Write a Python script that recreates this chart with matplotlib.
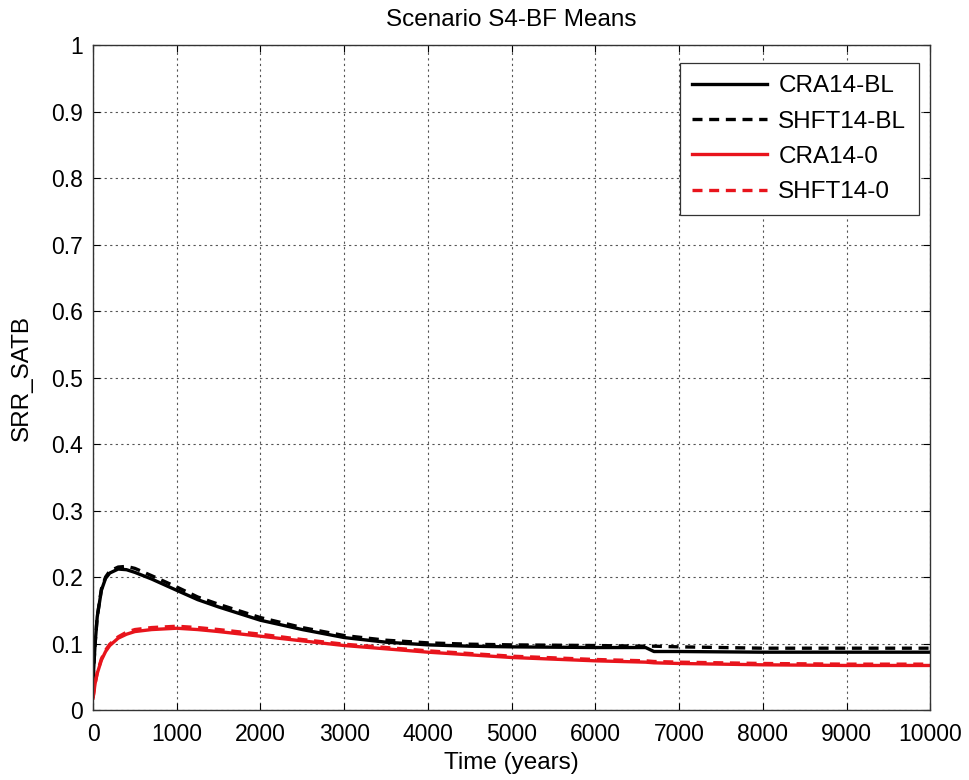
import matplotlib
matplotlib.use("Agg")
import matplotlib.pyplot as plt

plt.rcParams['font.family'] = ['Liberation Sans', 'DejaVu Sans']

# Time axis (years) and mean SRR_SATB series
time = [0, 25, 50, 100, 150, 200, 300, 400, 500, 700, 1000, 1250, 1500, 2000,
        2500, 3000, 3500, 4000, 4500, 5000, 6000, 6600, 6700, 7000, 8000, 9000, 10000]

cra14_bl = [0.045, 0.10, 0.14, 0.18, 0.198, 0.206, 0.212, 0.211, 0.207, 0.197, 0.180,
            0.166, 0.155, 0.135, 0.121, 0.109, 0.102, 0.098, 0.096, 0.095, 0.094,
            0.094, 0.088, 0.088, 0.087, 0.087, 0.087]
shft14_bl = [0.045, 0.10, 0.14, 0.182, 0.200, 0.209, 0.215, 0.216, 0.213, 0.202, 0.185,
             0.170, 0.159, 0.139, 0.124, 0.112, 0.105, 0.101, 0.099, 0.098, 0.097,
             0.096, 0.096, 0.095, 0.093, 0.093, 0.093]
cra14_0 = [0.018, 0.040, 0.055, 0.075, 0.088, 0.097, 0.108, 0.114, 0.118, 0.121, 0.123,
           0.121, 0.118, 0.111, 0.104, 0.097, 0.092, 0.087, 0.083, 0.079, 0.074,
           0.072, 0.071, 0.070, 0.068, 0.067, 0.067]
shft14_0 = [0.018, 0.040, 0.056, 0.077, 0.090, 0.099, 0.110, 0.117, 0.121, 0.124, 0.126,
            0.124, 0.121, 0.114, 0.106, 0.099, 0.094, 0.089, 0.085, 0.081, 0.076,
            0.074, 0.073, 0.072, 0.070, 0.069, 0.069]

x_ticks = [0, 1000, 2000, 3000, 4000, 5000, 6000, 7000, 8000, 9000, 10000]
y_ticks = [0, 0.1, 0.2, 0.3, 0.4, 0.5, 0.6, 0.7, 0.8, 0.9, 1]
y_tick_labels = ['0', '0.1', '0.2', '0.3', '0.4', '0.5', '0.6', '0.7', '0.8', '0.9', '1']

fig = plt.figure(figsize=(9.69, 7.8), dpi=100)
ax = fig.add_axes([0.096, 0.0897, 0.864, 0.8526])

lw = 2.4
ax.plot(time, cra14_bl, color='black', lw=lw, ls='-', label='CRA14-BL')
ax.plot(time, shft14_bl, color='black', lw=lw, ls=(0, (3, 2)), label='SHFT14-BL')
ax.plot(time, cra14_0, color='#e8141c', lw=lw, ls='-', label='CRA14-0')
ax.plot(time, shft14_0, color='#e8141c', lw=lw, ls=(0, (3, 2)), label='SHFT14-0')

ax.set_xlim(0, 10000)
ax.set_ylim(0, 1)
ax.set_xticks(x_ticks)
ax.set_xticklabels([str(t) for t in x_ticks])
ax.set_yticks(y_ticks)
ax.set_yticklabels(y_tick_labels)
ax.tick_params(direction='in', labelsize=16.5, length=5, top=True, right=True)
ax.tick_params(axis='x', pad=9)
ax.tick_params(axis='y', pad=7)
ax.grid(True, color='#555555', ls=(0, (2, 3)), lw=0.8)

for s in ax.spines.values():
    s.set_linewidth(1.0)
    s.set_color('#333333')

ax.set_xlabel('Time (years)', fontsize=17.5, labelpad=5)
ax.set_ylabel('SRR_SATB', fontsize=17.5, labelpad=13)
ax.set_title('Scenario S4-BF Means', fontsize=17.5, pad=14)

leg = ax.legend(loc='upper right', bbox_to_anchor=(0.986, 0.973), borderaxespad=0,
                fontsize=17.5, frameon=True, fancybox=False,
                edgecolor='#333333', framealpha=1, handlelength=3.1,
                handletextpad=0.45, labelspacing=0.55, borderpad=0.5)
leg.get_frame().set_linewidth(0.9)

fig.savefig('out.png', dpi=100)
